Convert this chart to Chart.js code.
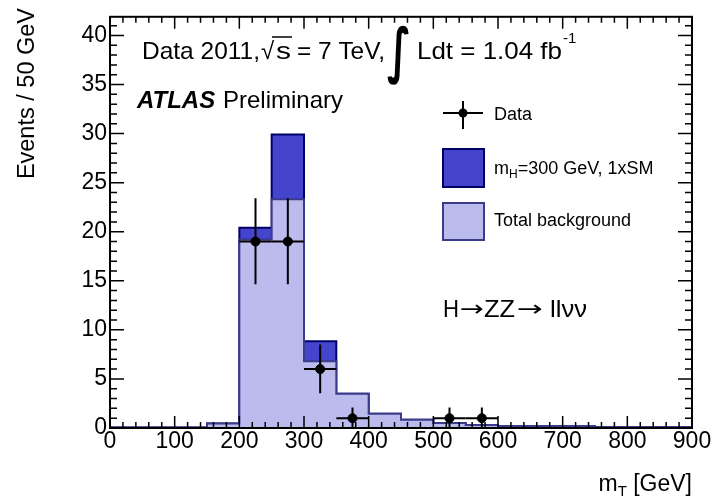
<!DOCTYPE html>
<html>
<head>
<meta charset="utf-8">
<script src="https://cdn.jsdelivr.net/npm/chart.js@4.4.0/dist/chart.umd.min.js"></script>
<style>
  html, body { margin: 0; padding: 0; background: #fff; }
</style>
</head>
<body>
<canvas id="chartMT" width="713" height="498"></canvas>
<script>
// bin edges in GeV (50 GeV bins)
const binEdges = [0, 50, 100, 150, 200, 250, 300, 350, 400, 450, 500, 550, 600, 650, 700, 750, 800, 850, 900];
// expected events per bin
const background = [0.05, 0.05, 0.05, 0.45, 19.2, 23.3, 6.8, 3.5, 1.45, 0.85, 0.5, 0.3, 0.2, 0.2, 0.2, 0.07, 0.07, 0.1];
const signal     = [0, 0, 0, 0, 1.2, 6.6, 2.05, 0, 0, 0, 0, 0, 0, 0, 0, 0, 0, 0];
// observed data
const dataX       = [225, 275, 325, 375, 525, 575];
const dataY       = [19, 19, 6, 1, 1, 1];
const dataErrLow  = [4.35, 4.35, 2.45, 1, 1, 1];
const dataErrHigh = [4.4, 4.4, 2.5, 1.1, 1.1, 1.1];
const dataBinHalf = [25, 25, 25, 25, 25, 25];
// axis ticks
const xTickLabels = [0, 100, 200, 300, 400, 500, 600, 700, 800, 900];
const yTickLabels = [0, 5, 10, 15, 20, 25, 30, 35, 40];

const FONT = '"Liberation Sans", Arial, sans-serif';

function stepPoints(vals) {
  const pts = vals.map((v, i) => ({ x: binEdges[i], y: v }));
  pts.push({ x: binEdges[vals.length], y: vals[vals.length - 1] });
  return pts;
}

const total = background.map((b, i) => b + signal[i]);

// draws a text stretched to a given width
function fitText(ctx, txt, x, y, w) {
  const mw = ctx.measureText(txt).width;
  ctx.save();
  ctx.translate(x, y);
  ctx.scale(w / mw, 1);
  ctx.fillText(txt, 0, 0);
  ctx.restore();
}

// error bars, inner ticks, frame and all the text
const atlasDecor = {
  id: 'atlasDecor',
  afterDatasetsDraw(chart) {
    const ctx = chart.ctx;
    const xs = chart.scales.x, ys = chart.scales.y;
    ctx.save();
    ctx.strokeStyle = '#000';
    ctx.lineWidth = 2;
    dataX.forEach((x, i) => {
      const px = xs.getPixelForValue(x);
      const py = ys.getPixelForValue(dataY[i]);
      ctx.beginPath();
      ctx.moveTo(px, ys.getPixelForValue(Math.max(0, dataY[i] - dataErrLow[i])));
      ctx.lineTo(px, ys.getPixelForValue(dataY[i] + dataErrHigh[i]));
      ctx.moveTo(xs.getPixelForValue(x - dataBinHalf[i]), py);
      ctx.lineTo(xs.getPixelForValue(x + dataBinHalf[i]), py);
      ctx.stroke();
    });
    ctx.restore();
  },
  afterDraw(chart) {
    const ctx = chart.ctx;
    const a = chart.chartArea;
    const xs = chart.scales.x, ys = chart.scales.y;
    ctx.save();

    // ticks pointing inwards
    ctx.strokeStyle = '#000';
    ctx.lineWidth = 1.5;
    ctx.beginPath();
    for (let v = 0; v <= 900; v += 20) {
      const px = xs.getPixelForValue(v);
      const len = v % 100 === 0 ? 12 : 6;
      ctx.moveTo(px, a.bottom); ctx.lineTo(px, a.bottom - len);
      ctx.moveTo(px, a.top); ctx.lineTo(px, a.top + len);
    }
    for (let v = 0; v <= 41; v += 1) {
      const py = ys.getPixelForValue(v);
      const len = v % 5 === 0 ? 14 : 7;
      ctx.moveTo(a.left, py); ctx.lineTo(a.left + len, py);
      ctx.moveTo(a.right, py); ctx.lineTo(a.right - len, py);
    }
    ctx.stroke();

    // frame
    ctx.lineWidth = 2;
    ctx.strokeRect(a.left, a.top, a.right - a.left, a.bottom - a.top);

    ctx.fillStyle = '#000';
    ctx.textBaseline = 'alphabetic';
    ctx.textAlign = 'left';

    // header line
    const hy = 59;
    ctx.font = '24px ' + FONT;
    fitText(ctx, 'Data 2011,', 142, hy, 118);
    ctx.fillText('\u221A', 261, hy);
    fitText(ctx, 's', 276, hy, 15);
    ctx.lineWidth = 1.5;
    ctx.beginPath();
    ctx.moveTo(272, 37); ctx.lineTo(292, 37);
    ctx.stroke();
    fitText(ctx, '= 7 TeV,', 297, hy, 88);
    ctx.font = 'bold 60px "DejaVu Sans", sans-serif';
    fitText(ctx, '\u222B', 387, hy + 12, 24);
    ctx.font = '24px ' + FONT;
    fitText(ctx, 'Ldt = 1.04 fb', 417, hy, 145);
    ctx.font = '15px ' + FONT;
    ctx.fillText('-1', 563, hy - 16);

    // ATLAS Preliminary
    ctx.font = 'italic bold 24px ' + FONT;
    ctx.fillText('ATLAS', 137, 108);
    ctx.font = '24px ' + FONT;
    ctx.fillText('Preliminary', 223, 108);

    // legend
    ctx.lineWidth = 2;
    ctx.beginPath();
    ctx.moveTo(443, 113); ctx.lineTo(483, 113);
    ctx.moveTo(463, 101); ctx.lineTo(463, 129);
    ctx.stroke();
    ctx.beginPath();
    ctx.arc(463, 113, 4.5, 0, Math.PI * 2);
    ctx.fill();

    ctx.fillStyle = '#4444cc';
    ctx.fillRect(443, 149, 41, 38);
    ctx.strokeStyle = '#000066';
    ctx.strokeRect(443, 149, 41, 38);
    ctx.fillStyle = '#bbbbee';
    ctx.fillRect(443, 203, 41, 37);
    ctx.strokeStyle = '#3b3b8c';
    ctx.strokeRect(443, 203, 41, 37);

    ctx.fillStyle = '#000';
    ctx.font = '18px ' + FONT;
    ctx.fillText('Data', 494, 120);
    let lx = 494;
    ctx.fillText('m', lx, 174);
    lx += ctx.measureText('m').width;
    ctx.font = '12px ' + FONT;
    ctx.fillText('H', lx, 178);
    lx += ctx.measureText('H').width;
    ctx.font = '18px ' + FONT;
    ctx.fillText('=300 GeV, 1xSM', lx, 174);
    ctx.fillText('Total background', 494, 226);

    // channel label
    const cy = 317;
    ctx.font = '24px ' + FONT;
    fitText(ctx, 'H', 443, cy, 16);
    fitText(ctx, 'ZZ', 484, cy, 31);
    fitText(ctx, 'll\u03BD\u03BD', 550, cy, 37);
    ctx.font = '22px "DejaVu Sans", sans-serif';
    fitText(ctx, '\u2192', 460, cy - 1, 24);
    fitText(ctx, '\u2192', 517, cy - 1, 26);

    // x axis title, right aligned
    const rx = a.right;
    ctx.font = '23px ' + FONT;
    const gw = ctx.measureText(' [GeV]').width;
    ctx.fillText(' [GeV]', rx - gw, 491);
    ctx.font = '15px ' + FONT;
    const tw = ctx.measureText('T').width;
    ctx.fillText('T', rx - gw - tw, 496);
    ctx.font = '23px ' + FONT;
    const mw = ctx.measureText('m').width;
    ctx.fillText('m', rx - gw - tw - mw, 491);

    // y axis title, rotated
    ctx.save();
    ctx.translate(34, 8);
    ctx.rotate(-Math.PI / 2);
    ctx.textAlign = 'right';
    ctx.font = '23.5px ' + FONT;
    ctx.fillText('Events / 50 GeV', 0, 0);
    ctx.restore();

    ctx.restore();
  }
};

const data = {
  datasets: [
    {
      type: 'scatter',
      label: 'Data',
      data: dataX.map((x, i) => ({ x: x, y: dataY[i] })),
      backgroundColor: '#000',
      borderColor: '#000',
      pointRadius: 4.5,
      order: 1
    },
    {
      type: 'line',
      label: 'Total background',
      data: stepPoints(background),
      stepped: true,
      fill: 'origin',
      backgroundColor: '#bbbbee',
      borderColor: '#3b3b8c',
      borderWidth: 2,
      pointRadius: 0,
      order: 2
    },
    {
      type: 'line',
      label: 'mH=300 GeV, 1xSM',
      data: stepPoints(total),
      stepped: true,
      fill: 'origin',
      backgroundColor: '#4444cc',
      borderColor: '#000066',
      borderWidth: 2,
      pointRadius: 0,
      order: 3
    }
  ]
};

const config = {
  type: 'scatter',
  data: data,
  options: {
    responsive: false,
    animation: false,
    layout: { padding: { left: 0, right: 21, top: 10, bottom: 0 } },
    plugins: {
      legend: { display: false },
      tooltip: { enabled: false }
    },
    scales: {
      x: {
        type: 'linear',
        min: xTickLabels[0],
        max: xTickLabels[xTickLabels.length - 1],
        afterBuildTicks: function (scale) {
          scale.ticks = xTickLabels.map(v => ({ value: v }));
        },
        afterFit: function (scale) { scale.height = 70; },
        ticks: {
          color: '#000',
          font: { family: FONT, size: 23 },
          padding: 0,
          maxRotation: 0,
          autoSkip: false
        },
        grid: { display: false, drawTicks: false },
        border: { display: false }
      },
      y: {
        type: 'linear',
        min: 0,
        max: 41.9,
        afterBuildTicks: function (scale) {
          scale.ticks = yTickLabels.map(v => ({ value: v }));
        },
        afterFit: function (scale) { scale.width = 110; },
        ticks: {
          color: '#000',
          font: { family: FONT, size: 23 },
          padding: 3
        },
        grid: { display: false, drawTicks: false },
        border: { display: false }
      }
    }
  },
  plugins: [atlasDecor]
};

const chartMT = new Chart(document.getElementById('chartMT'), config);
</script>
</body>
</html>
